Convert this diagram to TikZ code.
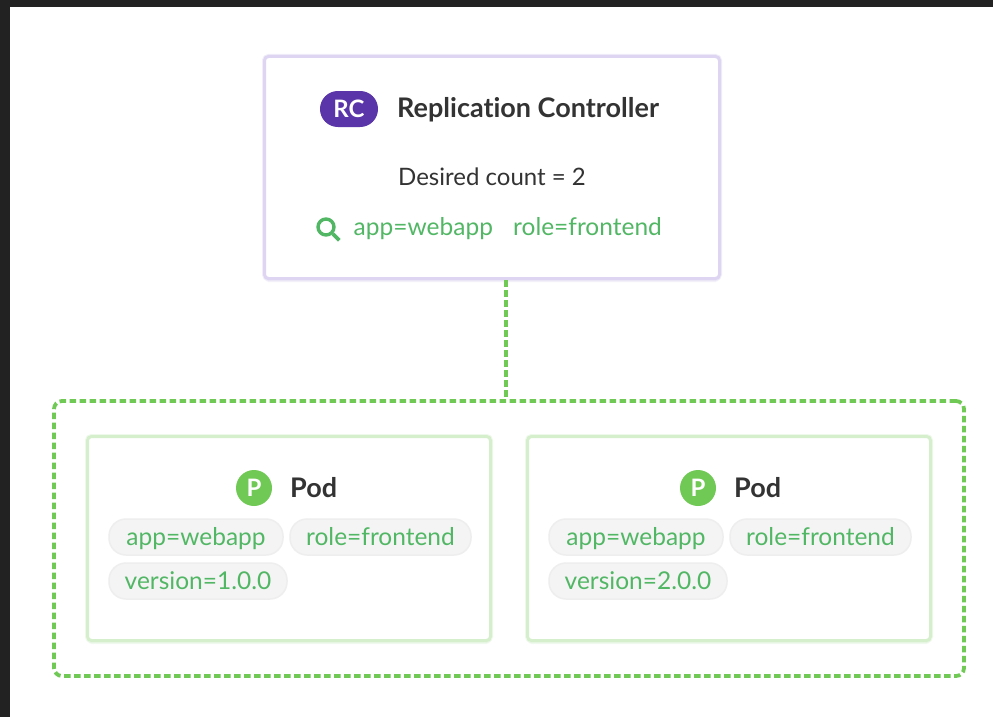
\documentclass[tikz,border=0pt]{standalone}
\usepackage{fontspec}
\setmainfont{Lato}[Ligatures=NoCommon]
\usetikzlibrary{shadows}
\definecolor{rcpurple}{HTML}{5A35AA}
\definecolor{rcborder}{HTML}{DDD5F1}
\definecolor{podgreen}{HTML}{70C955}
\definecolor{podborder}{HTML}{D5EFCC}
\definecolor{labelgreen}{HTML}{52B765}
\definecolor{pillgray}{HTML}{F4F4F4}
\definecolor{pillborder}{HTML}{EEEEEE}
\definecolor{inkdark}{HTML}{333333}
\definecolor{framedark}{HTML}{222222}
\tikzset{
  card/.style={draw=#1, line width=3pt, fill=white, rounded corners=4pt, inner sep=0pt,
    preaction={draw=#1!40, line width=5pt},
    drop shadow={shadow xshift=0pt, shadow yshift=-3.5pt, fill=#1!60, opacity=.5}},
  rcbox/.style={card=rcborder, minimum width=455pt, minimum height=222pt},
  podbox/.style={card=podborder, minimum width=403pt, minimum height=204pt},
  groupbox/.style={draw=podgreen, line width=3.8pt, rounded corners=8pt, inner sep=0pt,
    dash pattern=on 6.5pt off 3.5pt, minimum width=910pt, minimum height=275pt},
  linkdash/.style={draw=podgreen, line width=3.8pt, dash pattern=on 6.5pt off 3.5pt},
  badge/.style={fill=rcpurple, text=white, rounded corners=17.9pt, minimum width=58pt, minimum height=36pt,
    inner sep=0pt, font=\fontsize{24}{24}\selectfont\bfseries},
  podicon/.style={circle, fill=podgreen, text=white, minimum size=36pt, inner sep=0pt,
    font=\fontsize{24}{24}\selectfont\bfseries},
  heading/.style={anchor=base west, inner sep=0pt, text=inkdark, font=\fontsize{27}{28}\selectfont\bfseries},
  plain/.style={anchor=base west, inner sep=0pt, text=inkdark, font=\fontsize{24}{26}\selectfont},
  selector/.style={anchor=base west, inner sep=0pt, text=labelgreen, font=\fontsize{24.5}{26}\selectfont},
  pill/.style={draw=pillborder, line width=1.5pt, fill=pillgray, rounded corners=17pt, text=labelgreen,
    inner sep=0pt, minimum height=36pt, text height=19pt, text depth=3pt, font=\fontsize{24.5}{26}\selectfont},
  lensring/.style={circle, draw=labelgreen, line width=3.4pt, minimum size=16pt, inner sep=0pt},
  lenshandle/.style={draw=labelgreen, line width=3.8pt}
}
\begin{document}
\begin{tikzpicture}[x=1pt, y=-1pt]
  \useasboundingbox (0,0) rectangle (993,717);
  \fill[framedark] (0,0) rectangle (993,717);
  \fill[white] (10,7) rectangle (993,717);

  % replication controller
  \node[rcbox] (rc) at (492,167.5) {};
  \node[badge] (rcbadge) at (349,109) {RC};
  \node[heading] (rctitle) at (397,117) {Replication Controller};
  \node[plain] (rccount) at (398,185.5) {Desired count = 2};
  \node[lensring] (lens) at (326,227) {};
  \draw[lenshandle] (lens.-45) -- ++(6.5,6.5);
  \node[selector] (rcapp) at (353.5,235.5) {app=webapp};
  \node[selector] (rcrole) at (513,235.5) {role=frontend};

  % group of pods
  \node[groupbox] (grp) at (509,538.5) {};
  \draw[linkdash] (rc.-83) -- (rc.-83 |- grp.north);

  % first pod
  \node[podbox] (poda) at (289,538.5) {};
  \node[podicon] (picona) at (254,488) {P};
  \node[heading] (podtitlea) at (290,497) {Pod};
  \node[pill, minimum width=174pt] (appa) at (196,537) {app=webapp};
  \node[pill, minimum width=181pt] (rolea) at (380.5,537) {role=frontend};
  \node[pill, minimum width=178pt] (versiona) at (198,581) {version=1.0.0};

  % second pod
  \node[podbox] (podb) at (729,538.5) {};
  \node[podicon] (piconb) at (698,488) {P};
  \node[heading] (podtitleb) at (734,497) {Pod};
  \node[pill, minimum width=174pt] (appb) at (636,537) {app=webapp};
  \node[pill, minimum width=181pt] (roleb) at (820.5,537) {role=frontend};
  \node[pill, minimum width=178pt] (versionb) at (638,581) {version=2.0.0};
\end{tikzpicture}
\end{document}
